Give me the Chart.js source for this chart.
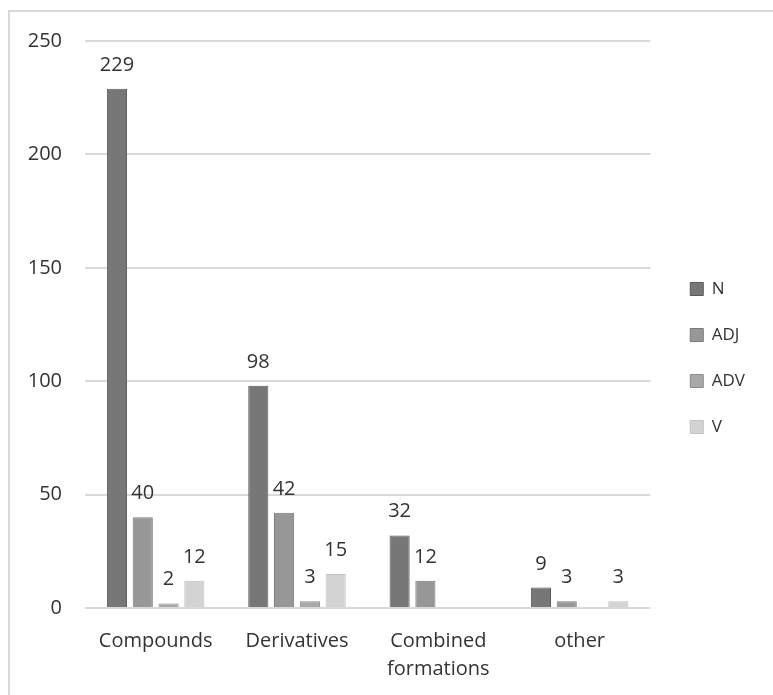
<!DOCTYPE html>
<html>
<head>
<meta charset="utf-8">
<script src="https://cdn.jsdelivr.net/npm/chart.js@4.4.1/dist/chart.umd.min.js"></script>
<style>
  html, body { margin: 0; padding: 0; background: #ffffff; }
  #frame {
    position: absolute; left: 8px; top: 10px; width: 800px; height: 720px;
    border-top: 2px solid #d9d9d9; border-left: 2px solid #d9d9d9;
  }
  #wrap { position: absolute; left: 0; top: 0; width: 773px; height: 695px; }
</style>
</head>
<body>
<div id="frame"></div>
<div id="wrap"><canvas id="c" width="773" height="695"></canvas></div>
<script>
// Word-formation types and counts per part of speech
const categories = ['Compounds', 'Derivatives', ['Combined', 'formations'], 'other'];
const seriesNames = ['N', 'ADJ', 'ADV', 'V'];
const nValues   = [229, 98, 32, 9];
const adjValues = [40, 42, 12, 3];
const advValues = [2, 3, null, null];
const vValues   = [12, 15, null, 3];
const yTicks = [0, 50, 100, 150, 200, 250];

const FONT = '"Open Sans", "DejaVu Sans", sans-serif';
const TEXT = '#333333';

const fills   = ['#777777', '#979797', '#a9a9a9', '#d3d3d3'];
const borders = ['#5a5a5a', '#7a7a7a', '#8c8c8c', '#c2c2c2'];
const values  = [nValues, adjValues, advValues, vValues];

// Writes each bar's value just above it
const valueLabels = {
  id: 'valueLabels',
  afterDatasetsDraw(chart) {
    const ctx = chart.ctx;
    ctx.save();
    ctx.font = '20px ' + FONT;
    ctx.fillStyle = TEXT;
    ctx.textAlign = 'center';
    ctx.textBaseline = 'alphabetic';
    chart.data.datasets.forEach((ds, i) => {
      const meta = chart.getDatasetMeta(i);
      meta.data.forEach((bar, j) => {
        const v = ds.data[j];
        if (v === null || v === undefined) return;
        ctx.fillText(String(v), bar.x, bar.y - 18);
      });
    });
    ctx.restore();
  }
};

new Chart(document.getElementById('c'), {
  type: 'bar',
  data: {
    labels: categories,
    datasets: seriesNames.map((name, i) => ({
      label: name,
      data: values[i],
      backgroundColor: fills[i],
      borderColor: borders[i],
      borderWidth: 1,
      categoryPercentage: 0.73,
      barPercentage: 0.78
    }))
  },
  options: {
    responsive: false,
    animation: false,
    layout: { padding: { left: 0, top: 41, right: 18, bottom: 0 } },
    plugins: {
      tooltip: { enabled: false },
      legend: {
        position: 'right',
        fullSize: false,
        // empty spacer title keeps the key centred a little lower
        title: { display: true, text: ' ', font: { size: 10, lineHeight: 1 }, padding: { top: 57, bottom: 0 } },
        labels: {
          boxWidth: 13,
          boxHeight: 13,
          padding: 29,
          color: TEXT,
          font: { family: FONT, size: 17 }
        }
      }
    },
    scales: {
      x: {
        grid: { display: false },
        border: { display: false },
        ticks: {
          color: TEXT,
          padding: 11,
          maxRotation: 0,
          autoSkip: false,
          font: { family: FONT, size: 20, lineHeight: 1.4 }
        },
        afterFit(s) { s.height = 87; }
      },
      y: {
        min: 0,
        max: 250,
        afterBuildTicks(s) { s.ticks = yTicks.map(v => ({ value: v })); },
        grid: { color: '#d9d9d9', lineWidth: 2, drawTicks: false },
        border: { display: false },
        ticks: {
          color: TEXT,
          padding: 23,
          font: { family: FONT, size: 20 }
        },
        afterFit(s) { s.width = 85; }
      },
      gap: {
        type: 'linear',
        position: 'right',
        display: true,
        grid: { display: false },
        border: { display: false },
        ticks: { display: false },
        afterFit(s) { s.width = 11; }
      }
    }
  },
  plugins: [valueLabels]
});
</script>
</body>
</html>
